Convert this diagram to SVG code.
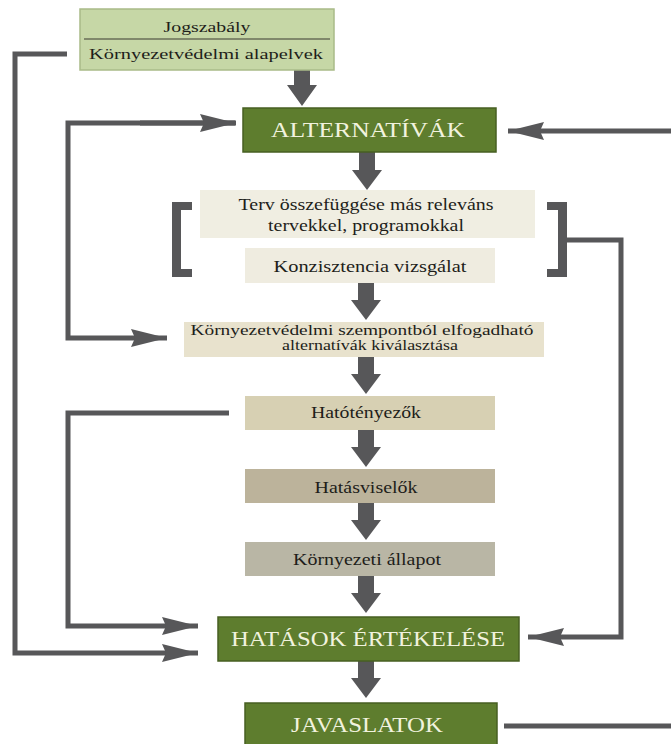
<svg xmlns="http://www.w3.org/2000/svg" width="671" height="744" viewBox="0 0 671 744">
<defs>
<style>
.t{font-family:"Liberation Serif","Times New Roman",serif;fill:#1e1e1a;text-anchor:middle}
.tw{font-family:"Liberation Serif","Times New Roman",serif;fill:#f1f2de;text-anchor:middle}
.green{fill:#5e7d2e;stroke:#475f22;stroke-width:1.5}
.con{fill:none;stroke:#575759;stroke-width:5;stroke-linejoin:miter}
.arr{fill:#575759}
</style>
<marker id="ah" viewBox="0 0 36 18" refX="36" refY="9" markerWidth="36" markerHeight="18" markerUnits="userSpaceOnUse" orient="auto">
<path d="M0,0 L36,9 L0,18 L4,9 Z" fill="#575759"/>
</marker>
</defs>
<rect width="671" height="744" fill="#ffffff"/>

<g id="connectors">
<path class="con" d="M67,54 H15 V653 H198" marker-end="url(#ah)"/>
<path class="con" d="M235,123 H68 V338 H167" marker-end="url(#ah)"/>
<path class="con" d="M140,123 H236" marker-end="url(#ah)"/>
<path class="con" d="M229,413 H68 V626 H198" marker-end="url(#ah)"/>
<path class="con" d="M671,131 H508" marker-end="url(#ah)"/>
<path class="con" d="M567,240 H621 V637 H528" marker-end="url(#ah)"/>
<path class="con" d="M504,726 H671"/>
<path class="arr" d="M294,70 H310 V85 H317 L302,106 L287,85 H294 Z"/>
<path class="arr" d="M359,152 H375 V170 H382 L367,190 L352,170 H359 Z"/>
<path class="arr" d="M358,283 H374 V300 H381 L366,320 L351,300 H358 Z"/>
<path class="arr" d="M358,357 H374 V374 H381 L366,394 L351,374 H358 Z"/>
<path class="arr" d="M358,430 H374 V447 H381 L366,467 L351,447 H358 Z"/>
<path class="arr" d="M358,503 H374 V520 H381 L366,540 L351,520 H358 Z"/>
<path class="arr" d="M358,576 H374 V593 H381 L366,613 L351,593 H358 Z"/>
<path class="arr" d="M358,661 H374 V678 H381 L366,698 L351,678 H358 Z"/>
<path class="arr" d="M172,202 H192 V210 H181 V269 H192 V277 H172 Z"/>
<path class="arr" d="M567,202 H547 V210 H558 V269 H547 V277 H567 Z"/>
</g>

<g id="jogszabaly">
<rect x="80" y="9" width="254" height="61" fill="#c6d7a6" stroke="#a9bb88" stroke-width="1.5"/>
<line x1="84" y1="39" x2="330" y2="39" stroke="#3a3a30" stroke-width="1.2"/>
<text class="t" x="207" y="32" font-size="15" textLength="87" lengthAdjust="spacingAndGlyphs">Jogszabály</text>
<text class="t" x="206" y="59" font-size="15" textLength="234" lengthAdjust="spacingAndGlyphs">Környezetvédelmi alapelvek</text>
</g>

<g id="alternativak">
<rect class="green" x="243" y="108" width="253" height="44"/>
<text class="tw" x="368" y="137" font-size="20" textLength="194" lengthAdjust="spacingAndGlyphs">ALTERNATÍVÁK</text>
</g>

<g id="terv">
<rect x="200" y="190" width="335" height="48" fill="#f0eee2"/>
<text class="t" x="366" y="210" font-size="17" textLength="255" lengthAdjust="spacingAndGlyphs">Terv összefüggése más releváns</text>
<text class="t" x="366" y="231" font-size="17" textLength="196" lengthAdjust="spacingAndGlyphs">tervekkel, programokkal</text>
</g>

<g id="konzisztencia">
<rect x="245" y="248" width="250" height="35" fill="#efece0"/>
<text class="t" x="370" y="272" font-size="16" textLength="193" lengthAdjust="spacingAndGlyphs">Konzisztencia vizsgálat</text>
</g>

<g id="kivalasztas">
<rect x="184" y="322" width="360" height="35" fill="#e8e2cd"/>
<text class="t" x="362" y="335" font-size="15" textLength="343" lengthAdjust="spacingAndGlyphs">Környezetvédelmi szempontból elfogadható</text>
<text class="t" x="370" y="350" font-size="15" textLength="176" lengthAdjust="spacingAndGlyphs">alternatívák kiválasztása</text>
</g>

<g id="hatotenyezok">
<rect x="245" y="396" width="250" height="34" fill="#d7d0b3"/>
<text class="t" x="366" y="418" font-size="16" textLength="110" lengthAdjust="spacingAndGlyphs">Hatótényezők</text>
</g>

<g id="hatasviselok">
<rect x="245" y="469" width="250" height="34" fill="#bcb39b"/>
<text class="t" x="366" y="493" font-size="16" textLength="103" lengthAdjust="spacingAndGlyphs">Hatásviselők</text>
</g>

<g id="kornyezeti-allapot">
<rect x="245" y="542" width="250" height="34" fill="#b9b6a5"/>
<text class="t" x="367" y="565" font-size="16" textLength="148" lengthAdjust="spacingAndGlyphs">Környezeti állapot</text>
</g>

<g id="hatasok-ertekelese">
<rect class="green" x="218" y="617" width="301" height="44"/>
<text class="tw" x="368" y="646" font-size="21" textLength="274" lengthAdjust="spacingAndGlyphs">HATÁSOK ÉRTÉKELÉSE</text>
</g>

<g id="javaslatok">
<rect class="green" x="245" y="703" width="252" height="50"/>
<text class="tw" x="367" y="732" font-size="21" textLength="152" lengthAdjust="spacingAndGlyphs">JAVASLATOK</text>
</g>
</svg>
